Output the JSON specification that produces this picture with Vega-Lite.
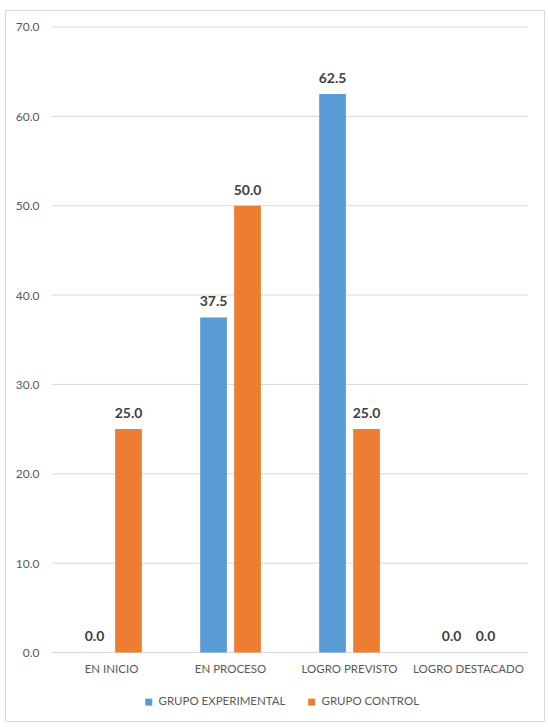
{
  "$schema": "https://vega.github.io/schema/vega-lite/v6.json",
  "width": 539,
  "height": 711,
  "autosize": {"type": "none"},
  "padding": {"left": 5, "top": 10, "right": 4, "bottom": 6},
  "background": "white",
  "config": {
    "view": {"stroke": "#D9D9D9", "strokeWidth": 1},
    "font": "Lato"
  },
  "datasets": {
    "resultados": [
      {"nivel": "EN INICIO", "grupo": "GRUPO EXPERIMENTAL", "porcentaje": 0.0},
      {"nivel": "EN INICIO", "grupo": "GRUPO CONTROL", "porcentaje": 25.0},
      {"nivel": "EN PROCESO", "grupo": "GRUPO EXPERIMENTAL", "porcentaje": 37.5},
      {"nivel": "EN PROCESO", "grupo": "GRUPO CONTROL", "porcentaje": 50.0},
      {"nivel": "LOGRO PREVISTO", "grupo": "GRUPO EXPERIMENTAL", "porcentaje": 62.5},
      {"nivel": "LOGRO PREVISTO", "grupo": "GRUPO CONTROL", "porcentaje": 25.0},
      {"nivel": "LOGRO DESTACADO", "grupo": "GRUPO EXPERIMENTAL", "porcentaje": 0.0},
      {"nivel": "LOGRO DESTACADO", "grupo": "GRUPO CONTROL", "porcentaje": 0.0}
    ],
    "escala": [
      {"marca": 0}, {"marca": 10}, {"marca": 20}, {"marca": 30},
      {"marca": 40}, {"marca": 50}, {"marca": 60}, {"marca": 70}
    ]
  },
  "layer": [
    {
      "data": {"name": "escala"},
      "mark": {"type": "rule", "color": "#D9D9D9", "strokeWidth": 1},
      "encoding": {
        "x": {"datum": "EN INICIO", "type": "nominal", "bandPosition": -0.48, "title": null},
        "x2": {"datum": "LOGRO DESTACADO", "bandPosition": 1.48},
        "y": {"field": "marca", "type": "quantitative", "title": null}
      }
    },
    {
      "data": {"name": "resultados"},
      "mark": {"type": "bar"},
      "encoding": {
        "x": {
          "field": "nivel",
          "type": "nominal",
          "title": null,
          "scale": {
            "domain": ["EN INICIO", "EN PROCESO", "LOGRO PREVISTO", "LOGRO DESTACADO"],
            "paddingInner": 0.49,
            "paddingOuter": 0.5096,
            "align": 0.628
          },
          "axis": {
            "orient": "bottom",
            "offset": -68.5,
            "bandPosition": 0.5,
            "domain": false,
            "ticks": false,
            "tickSize": 0,
            "labelAngle": 0,
            "labelAlign": "center",
            "labelPadding": 17,
            "labelFontSize": 11.5,
            "labelColor": "#595959",
            "labelFont": "Lato"
          }
        },
        "xOffset": {
          "field": "grupo",
          "type": "nominal",
          "scale": {
            "domain": ["GRUPO EXPERIMENTAL", "GRUPO CONTROL"],
            "paddingInner": 0.214,
            "paddingOuter": 0
          }
        },
        "y": {
          "field": "porcentaje",
          "type": "quantitative",
          "title": null,
          "scale": {"domain": [-7.666, 71.902], "nice": false, "zero": false},
          "axis": {
            "values": [0, 10, 20, 30, 40, 50, 60, 70],
            "format": ".1f",
            "offset": -47,
            "grid": false,
            "domain": false,
            "ticks": false,
            "tickSize": 0,
            "labelPadding": 13,
            "labelFontSize": 12,
            "labelColor": "#595959",
            "labelFont": "Lato"
          }
        },
        "color": {
          "field": "grupo",
          "type": "nominal",
          "scale": {
            "domain": ["GRUPO EXPERIMENTAL", "GRUPO CONTROL"],
            "range": ["#5B9BD5", "#ED7D31"]
          },
          "legend": {
            "title": null,
            "orient": "none",
            "direction": "horizontal",
            "legendX": 138,
            "legendY": 686,
            "padding": 0,
            "symbolType": "square",
            "symbolSize": 49,
            "symbolStrokeWidth": 0,
            "labelFontSize": 11.5,
            "labelColor": "#595959",
            "labelFont": "Lato",
            "labelOffset": 4,
            "columnPadding": 20
          }
        }
      }
    },
    {
      "data": {"name": "resultados"},
      "mark": {
        "type": "text",
        "baseline": "alphabetic",
        "dy": -11,
        "fontSize": 14,
        "fontWeight": "bold",
        "font": "Lato",
        "color": "#404040"
      },
      "encoding": {
        "x": {"field": "nivel", "type": "nominal", "title": null},
        "xOffset": {"field": "grupo", "type": "nominal"},
        "y": {"field": "porcentaje", "type": "quantitative", "title": null},
        "text": {"field": "porcentaje", "type": "quantitative", "format": ".1f"}
      }
    }
  ]
}
